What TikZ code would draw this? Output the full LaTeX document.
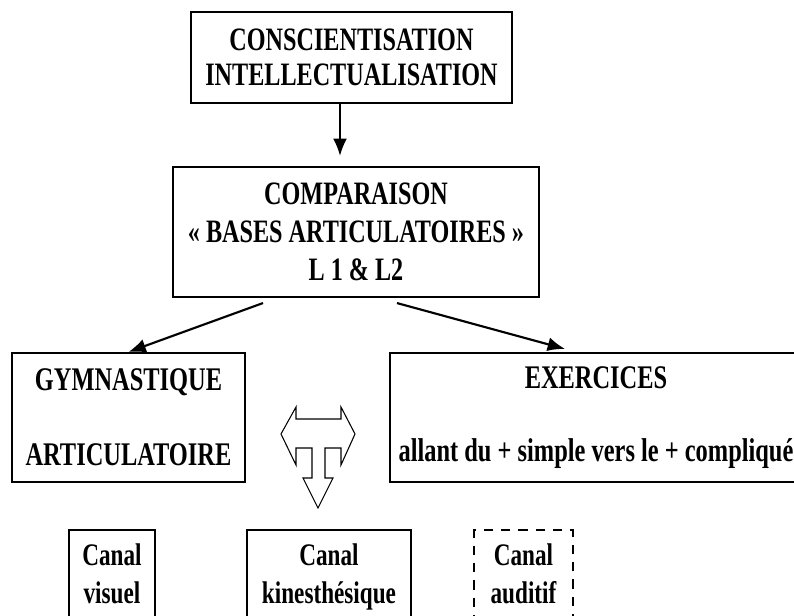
\documentclass[tikz,border=0pt]{standalone}
\usepackage{fontspec}
\setmainfont{Liberation Serif}[FakeStretch=0.74]
\usetikzlibrary{arrows.meta,calc}
\begin{document}
\begin{tikzpicture}[x=0.75pt,y=-0.75pt,
  box/.style={draw,line width=1.6pt,align=center,inner sep=0pt},
  bigfont/.style={font=\bfseries\fontsize{24.5}{26.25}\selectfont},
  midfont/.style={font=\bfseries\fontsize{24.5}{28.5}\selectfont},
  lowfont/.style={font=\bfseries\fontsize{24.75}{28.5}\selectfont},
  smallfont/.style={font=\bfseries\fontsize{23.5}{28.5}\selectfont},
  canalbox/.style={box,smallfont,anchor=north,inner ysep=10.5pt,inner xsep=0pt,text depth=60pt},
  arr/.style={line width=1.6pt,-{Latex[length=13pt,width=10.5pt]}},
  tarrow/.style={draw,line width=0.8pt,line join=miter}]
\useasboundingbox (0,0) rectangle (794,616);

\node[box,bigfont,minimum width=240.75pt,minimum height=68.25pt] (top) at (351.5,57.5)
  {CONSCIENTISATION\\INTELLECTUALISATION};
\node[box,midfont,minimum width=274.5pt,minimum height=97.5pt] (comp) at (356,232)
  {COMPARAISON\\« BASES ARTICULATOIRES »\\L 1 \& L2};
\node[box,lowfont,minimum width=174.75pt,minimum height=96.75pt] (gym) at (128.5,417.5)
  {GYMNASTIQUE\\[27.75pt]ARTICULATOIRE};
\node[box,lowfont,minimum width=309pt,minimum height=96.75pt] (exer) at (596,417.5)
  {EXERCICES\\[26.25pt]allant du + simple vers le + compliqué};

\node[canalbox,minimum width=64.5pt] (vis) at (112,529) {Canal\\visuel};
\node[canalbox,minimum width=123pt] (kin) at (329,529) {Canal\\kinesthésique};
\node[canalbox,minimum width=74.25pt,dash pattern=on 7pt off 6pt] (aud) at (523.5,529) {Canal\\auditif};

\draw[arr] ($(top.south)+(-11.5,0)$) -- ($(comp.north)+(-16,-10)$);
\draw[arr] ($(comp.south)+(-93,5)$) -- (gym.north);
\draw[arr] ($(comp.south)+(41,5)$) -- ($(exer.north)+(-31,-3)$);

\draw[tarrow] (296,407) -- (296,419) -- (341,419) -- (341,407) -- (355,434) -- (341,465)
  -- (341,448) -- (325,448) -- (325,478) -- (333,478) -- (318,508) -- (303,478)
  -- (312,478) -- (312,448) -- (296,448) -- (296,465) -- (281,434) -- cycle;
\end{tikzpicture}
\end{document}
